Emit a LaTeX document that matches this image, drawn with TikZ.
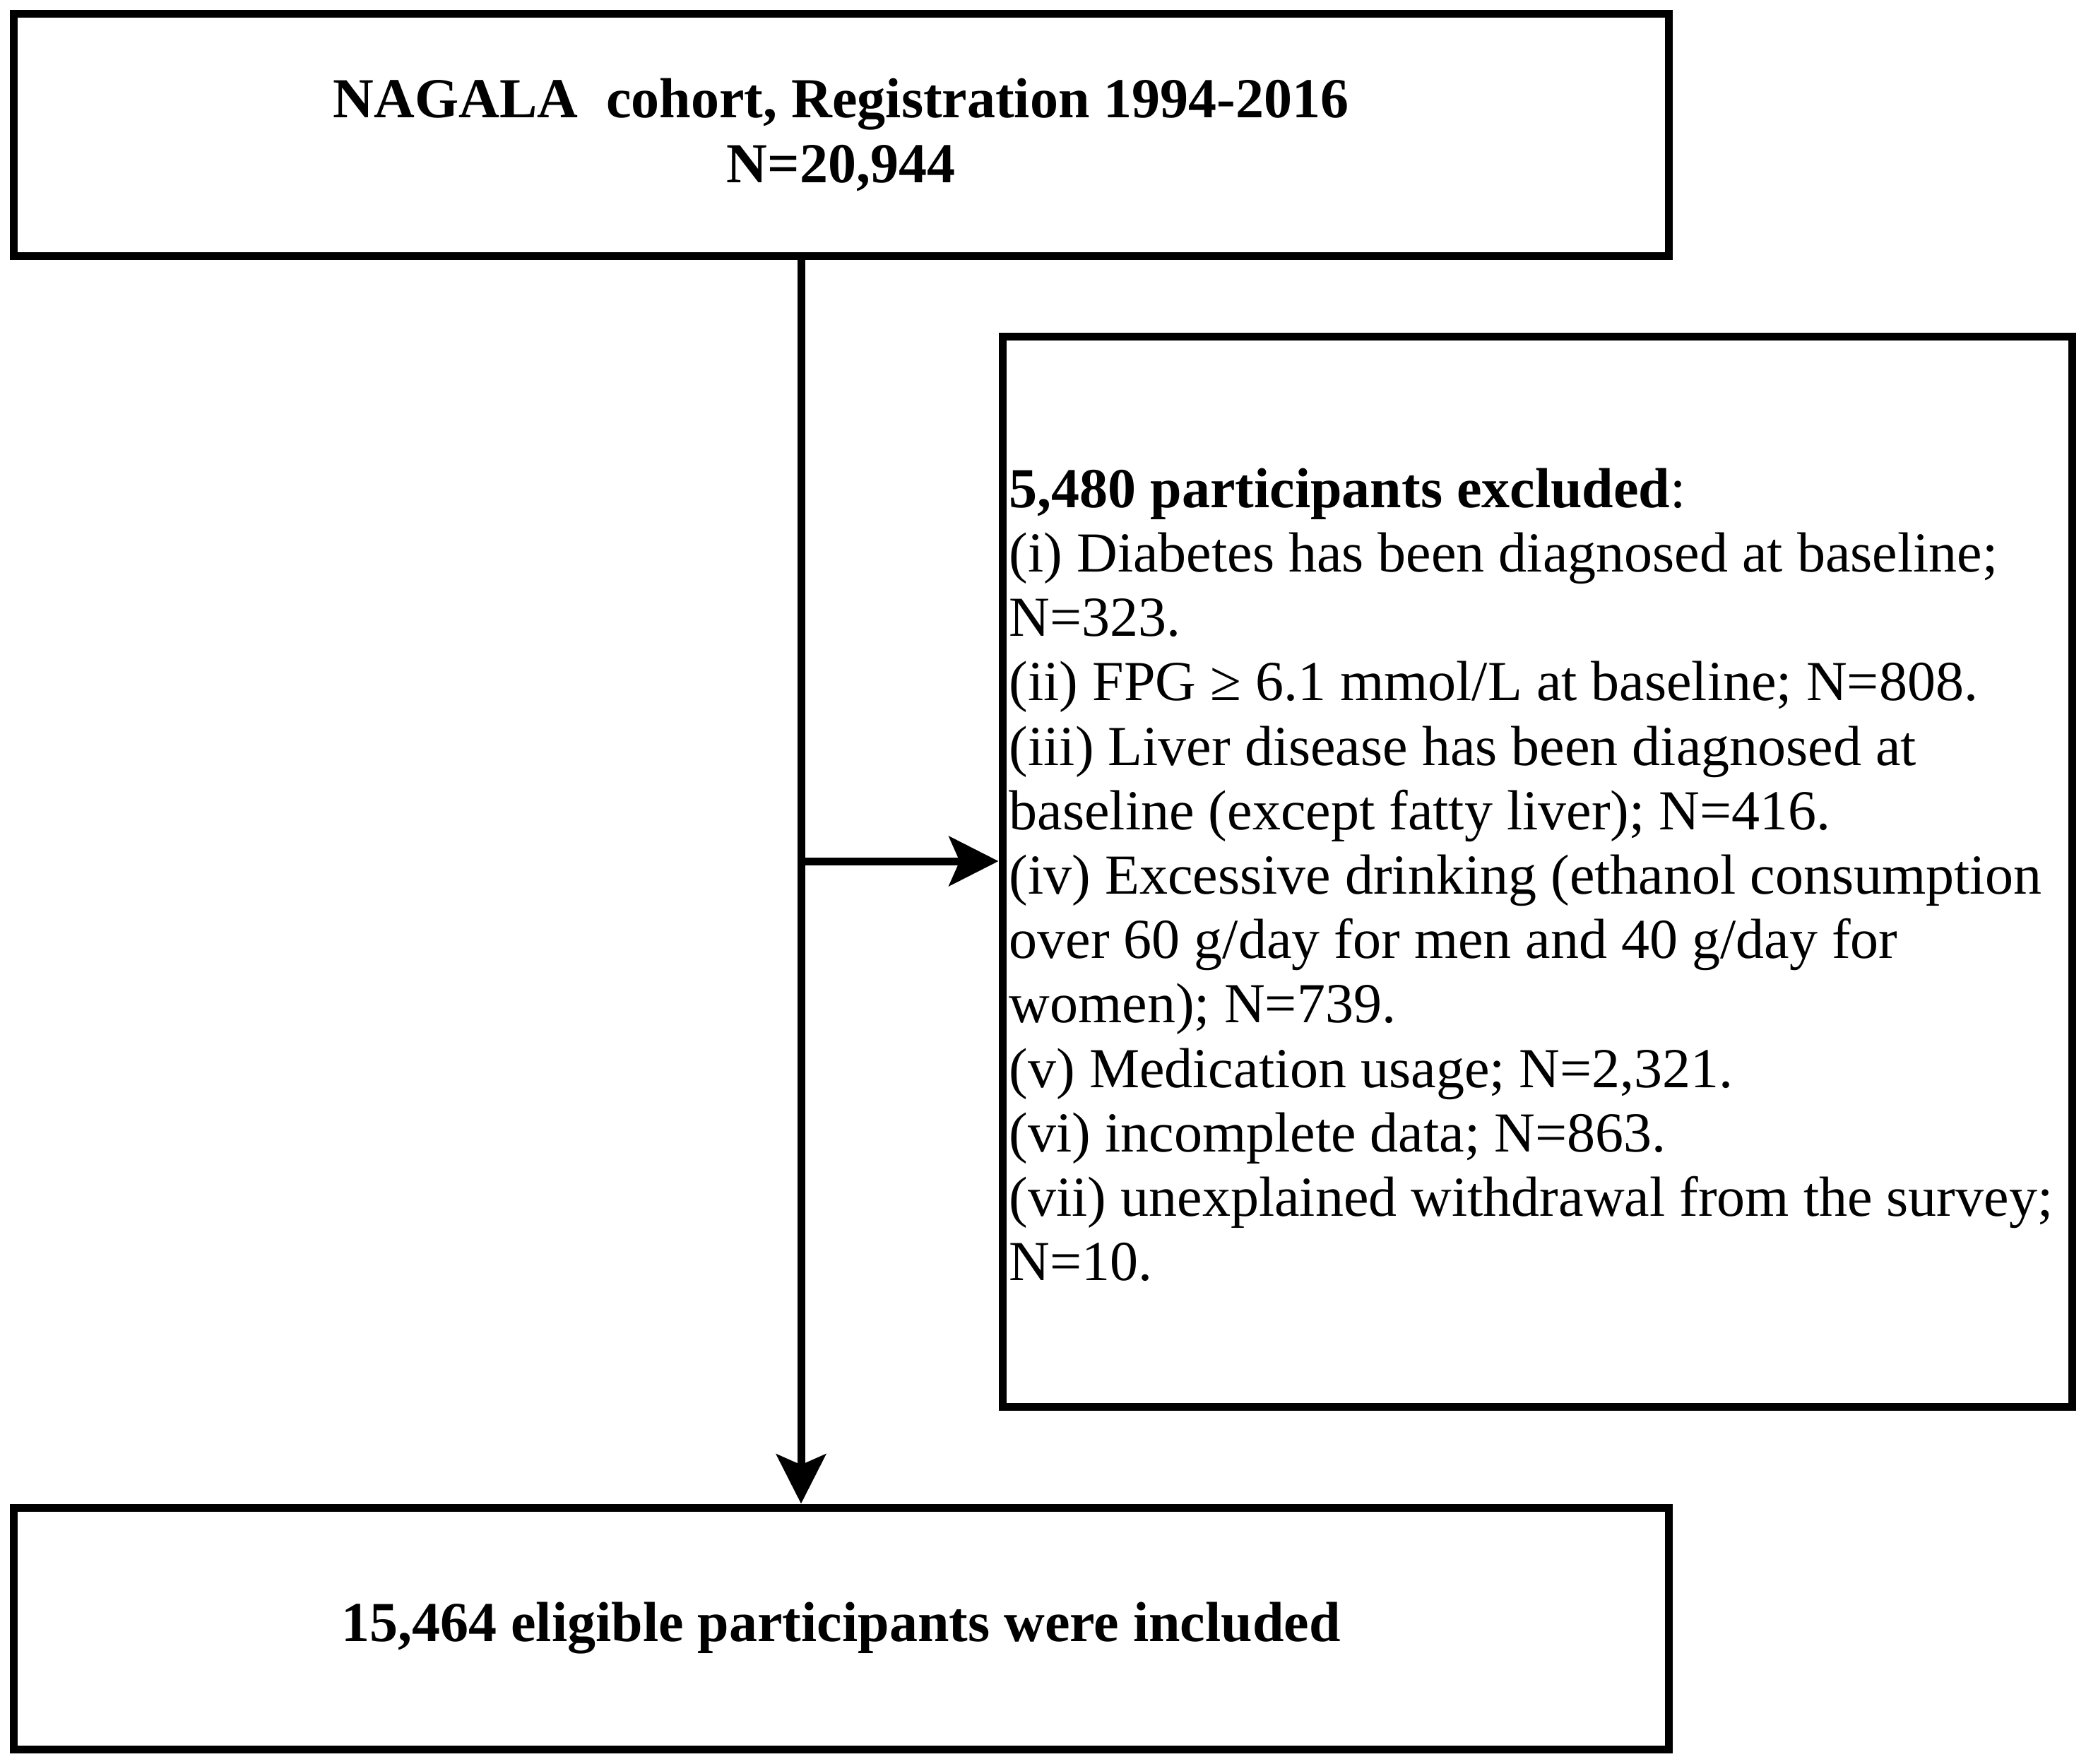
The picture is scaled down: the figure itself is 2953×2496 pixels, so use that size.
\documentclass[tikz,border=0pt]{standalone}
\usepackage{fontspec}
\setmainfont{Liberation Serif}
\usetikzlibrary{arrows.meta}
\begin{document}
\begin{tikzpicture}[x=0.25pt,y=-0.25pt,
  box/.style={draw=black, line width=2.75pt, inner sep=0pt, align=center},
  boldtxt/.style={font=\fontsize{20pt}{23pt}\selectfont\bfseries},
  listtxt/.style={inner sep=0pt, align=left, anchor=north west, font=\fontsize{20pt}{22.8pt}\selectfont},
  arr/.style={line width=2.75pt, -{Stealth[length=17.5pt,width=17.5pt,inset=3.75pt]}}]
\useasboundingbox (0,0) rectangle (2953,2496);
\node[box, boldtxt, minimum width=585.75pt, minimum height=85.75pt] (top) at (1190.5,190.5)
  {NAGALA\ \ cohort, Registration 1994-2016\\N=20,944};
\node[box, boldtxt, minimum width=585.75pt, minimum height=85.5pt] (bot) at (1190.5,2305)
  {15,464 eligible participants were included};
\node[box, minimum width=378.5pt, minimum height=378.75pt] (ex) at (2176,1233.5) {};
\node[listtxt] (extxt) at (1428,662) {\textbf{5,480 participants excluded}:\\
(i) Diabetes has been diagnosed at baseline;\\
N=323.\\
(ii) FPG ≥ 6.1 mmol/L at baseline; N=808.\\
(iii) Liver disease has been diagnosed at\\
baseline (except fatty liver); N=416.\\
(iv) Excessive drinking (ethanol consumption\\
over 60 g/day for men and 40 g/day for\\
women); N=739.\\
(v) Medication usage; N=2,321.\\
(vi) incomplete data; N=863.\\
(vii) unexplained withdrawal from the survey;\\
N=10.};
\coordinate (vx) at (1134,0);
\coordinate (branch) at (1134,1219);
\draw[arr] (top.south -| vx) -- (bot.north -| vx);
\draw[arr] (branch) -- (branch -| ex.west);
\end{tikzpicture}
\end{document}
